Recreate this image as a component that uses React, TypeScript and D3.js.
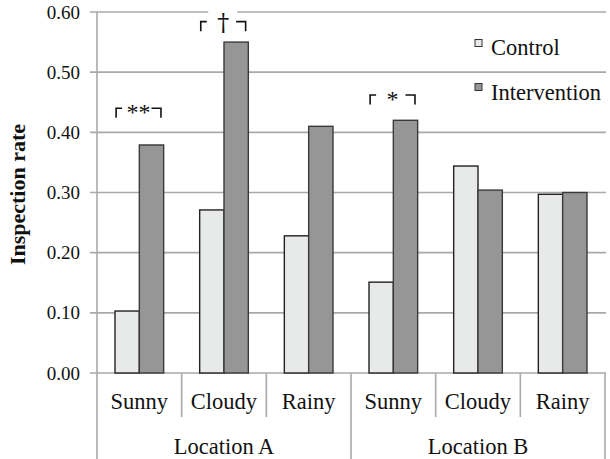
import React from "react";
import * as d3 from "d3";

const categories = ["Sunny", "Cloudy", "Rainy", "Sunny", "Cloudy", "Rainy"];
const locations = ["Location A", "Location B"];
const seriesNames = ["Control", "Intervention"];
const control = [0.103, 0.271, 0.228, 0.151, 0.344, 0.297];
const intervention = [0.379, 0.55, 0.41, 0.42, 0.304, 0.3];
const yTicks = [0, 0.1, 0.2, 0.3, 0.4, 0.5, 0.6];
const annotationLabels = ["**", "\u2020", "*"];
const annotationCats = [0, 1, 3];
const annotationValues = [0.44, 0.584, 0.462];

const W = 610;
const H = 459;
const left = 97;
const right = 605;
const top = 12;
const bottom = 373;
const colors = ["#e8e9e9", "#969696"];
const strokes = ["#222", "#3a3a3a"];
const gridColor = "#a9a9a9";
const serif = "'Liberation Serif', 'Times New Roman', serif";

export default function App() {
  const idx = categories.map((_, i) => String(i));
  const x = d3.scaleBand<string>().domain(idx).range([left, right]).padding(0);
  const xs = d3
    .scaleBand<string>()
    .domain(seriesNames)
    .range([0, x.bandwidth()])
    .paddingInner(0)
    .paddingOuter(0.74);
  const y = d3.scaleLinear().domain([0, 0.6]).range([bottom, top]);
  const series = [control, intervention];
  const perLoc = categories.length / locations.length;
  const bw = x.bandwidth();

  return (
    <svg
      width={W}
      height={H}
      style={{ position: "absolute", left: 0, top: 0, background: "#fff" }}
      fontFamily={serif}
    >
      {yTicks.map((t) => (
        <g key={t}>
          <line x1={left - 7} x2={right + 1} y1={y(t)} y2={y(t)} stroke={gridColor} strokeWidth={1.6} />
          <text x={80} y={y(t)} dy="0.35em" textAnchor="end" fontSize={19} fill="#111">
            {d3.format(".2f")(t)}
          </text>
        </g>
      ))}
      <line x1={left} x2={left} y1={top} y2={H} stroke={gridColor} strokeWidth={1.6} />
      {idx.map((c, i) =>
        i === 0 ? null : (
          <line
            key={"d" + c}
            x1={x(c)!}
            x2={x(c)!}
            y1={bottom}
            y2={i % perLoc === 0 ? H : 417}
            stroke={gridColor}
            strokeWidth={1.6}
          />
        )
      )}
      <line x1={right} x2={right} y1={bottom} y2={H} stroke={gridColor} strokeWidth={1.6} />
      {series.map((vals, s) =>
        vals.map((v, i) => (
          <rect
            key={s + "-" + i}
            x={x(String(i))! + xs(seriesNames[s])!}
            y={y(v)}
            width={xs.bandwidth()}
            height={y(0) - y(v)}
            fill={colors[s]}
            stroke={strokes[s]}
            strokeWidth={1.4}
          />
        ))
      )}
      {categories.map((c, i) => (
        <text key={"c" + i} x={x(String(i))! + bw / 2} y={409} textAnchor="middle" fontSize={22.5} fill="#111">
          {c}
        </text>
      ))}
      {locations.map((l, j) => (
        <text
          key={l}
          x={x(String(j * perLoc))! + (bw * perLoc) / 2}
          y={454}
          textAnchor="middle"
          fontSize={22.5}
          fill="#111"
        >
          {l}
        </text>
      ))}
      {annotationLabels.map((lab, k) => {
        const cx = x(String(annotationCats[k]))! + bw / 2 - 0.8;
        const yt = y(annotationValues[k]);
        const half = bw * 0.265;
        const isDagger = lab === "\u2020";
        return (
          <g key={"a" + k}>
            {isDagger && <rect x={cx - 15} y={yt - 14} width={29} height={12} fill="#fff" />}
            <path
              d={`M${cx - half},${yt + 9.5}V${yt}H${cx - half + 6}M${cx + half - 9.5},${yt}H${cx + half}V${yt + 9.5}`}
              fill="none"
              stroke="#111"
              strokeWidth={1.6}
            />
            <text
              x={cx}
              y={isDagger ? yt + 9 : yt + 12}
              textAnchor="middle"
              fontSize={isDagger ? 24 : 24}
              fontFamily={isDagger ? "'DejaVu Serif', serif" : serif}
              fill="#111"
            >
              {lab}
            </text>
          </g>
        );
      })}
      {seriesNames.map((n, s) => (
        <g key={n}>
          <rect x={475} y={39.5 + s * 44} width={7} height={7} fill={colors[s]} stroke="#333" strokeWidth={1} />
          <text x={491} y={55 + s * 45} fontSize={22.5} fill="#111">
            {n}
          </text>
        </g>
      ))}
      <text
        transform={`translate(25,${(top + bottom) / 2 + 2}) rotate(-90)`}
        textAnchor="middle"
        fontSize={22}
        fontWeight="bold"
        fill="#111"
      >
        Inspection rate
      </text>
    </svg>
  );
}
